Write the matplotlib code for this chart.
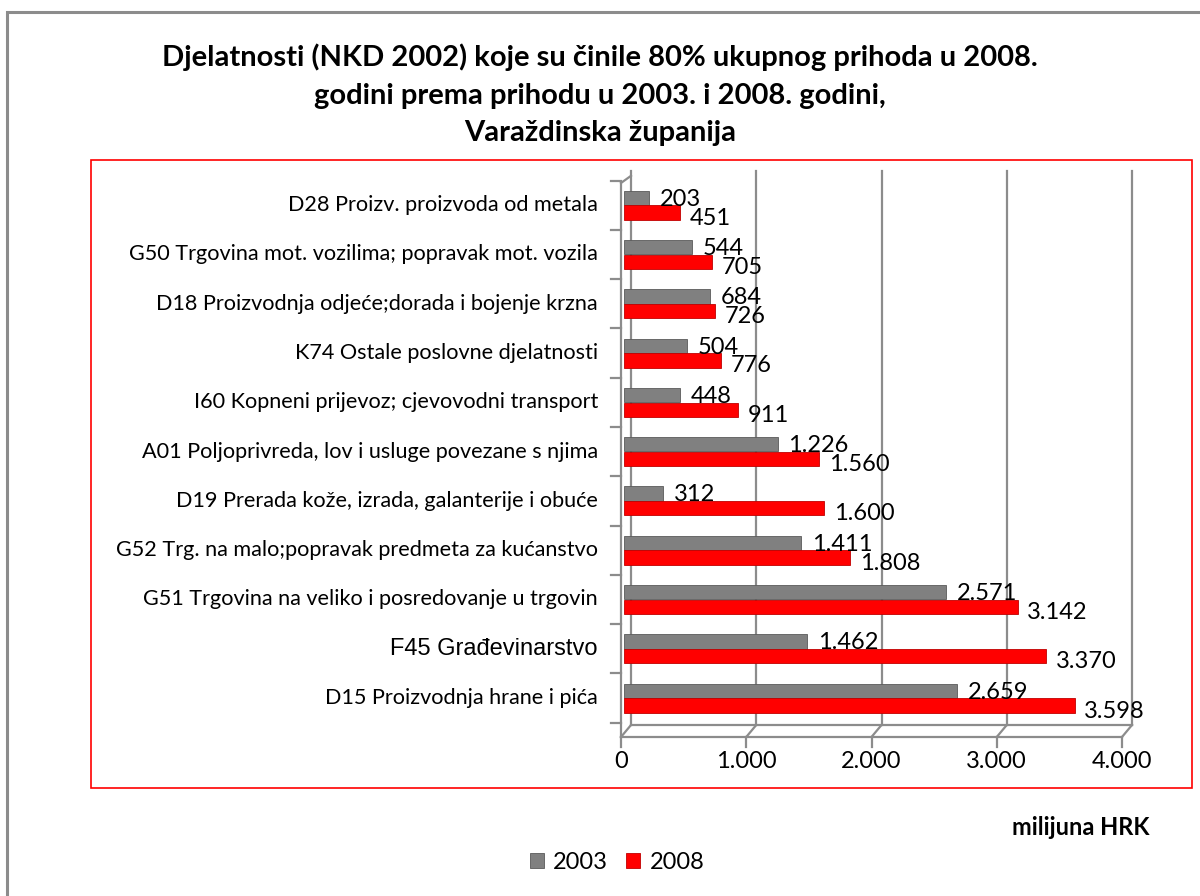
import matplotlib.pyplot as plt
import matplotlib.transforms as mtransforms
from matplotlib.patches import Rectangle

categories = [
    "D15 Proizvodnja hrane i pića",
    "F45 Građevinarstvo",
    "G51 Trgovina na veliko i posredovanje u trgovin",
    "G52 Trg. na malo;popravak predmeta za kućanstvo",
    "D19 Prerada kože, izrada, galanterije i obuće",
    "A01 Poljoprivreda, lov i usluge povezane s njima",
    "I60 Kopneni prijevoz; cjevovodni transport",
    "K74 Ostale poslovne djelatnosti",
    "D18 Proizvodnja odjeće;dorada i bojenje krzna",
    "G50 Trgovina mot. vozilima; popravak mot. vozila",
    "D28 Proizv. proizvoda od metala",
]
values_2003 = [2659, 1462, 2571, 1411, 312, 1226, 448, 504, 684, 544, 203]
values_2008 = [3598, 3370, 3142, 1808, 1600, 1560, 911, 776, 726, 705, 451]
series_names = ["2003", "2008"]
xticks = [0, 1000, 2000, 3000, 4000]

title = ("Djelatnosti (NKD 2002) koje su činile 80% ukupnog prihoda u 2008.\n"
         "godini prema prihodu u 2003. i 2008. godini,\n"
         "Varaždinska županija")

FONT = ["Lato", "DejaVu Sans"]
GREY = "#808080"
RED = "#ff0000"
AXC = "#8c8c8c"


def fmt(v):
    return f"{v:,}".replace(",", ".")


W, H = 1200, 896
fig = plt.figure(figsize=(W / 100, H / 100), dpi=100)
plt.rcParams["font.family"] = FONT

# outer frame and red plot-area frame (pixel coords)
def px_rect(x0, y0, x1, y1, color, lw):
    fig.patches.append(Rectangle((x0 / W, 1 - y1 / H), (x1 - x0) / W, (y1 - y0) / H,
                                 transform=fig.transFigure, fill=False,
                                 edgecolor=color, linewidth=lw))

px_rect(7, 12, 1210, 910, "#8c8c8c", 2.2)
px_rect(91, 160, 1192, 788, RED, 1.2)

fig.text(0.5, 1 - 95 / H, title, ha="center", va="center", fontsize=21,
         fontweight="bold", linespacing=1.55)

left, right, top, bottom = 621, 1122, 183, 737
ax = fig.add_axes([left / W, 1 - bottom / H, (right - left) / W, (bottom - top) / H])
ax.set_xlim(0, 4000)
ax.set_ylim(-0.79, 10.45)
for s in ax.spines.values():
    s.set_visible(False)
ax.set_xticks([])
ax.set_yticks([])
ax.patch.set_alpha(0)

dx, dy = 10, 12
back = mtransforms.offset_copy(ax.transData, fig=fig, x=dx, y=dy, units="dots")
mid = mtransforms.offset_copy(ax.transData, fig=fig, x=3, y=0, units="dots")
y_lo, y_hi = -0.79, 10.45

# back wall gridlines and floor
for xt in xticks:
    ax.plot([xt, xt], [y_lo, y_hi], color=AXC, lw=1.6, transform=back, clip_on=False, zorder=1)
ax.plot([0, 4000], [y_lo, y_lo], color=AXC, lw=1.6, transform=back, clip_on=False, zorder=1)
# slanted floor edges
for xt in xticks:
    p0 = ax.transData.transform((xt, y_lo))
    ax.plot([p0[0], p0[0] + dx], [p0[1], p0[1] + dy], color=AXC, lw=1.6,
            transform=None, clip_on=False, zorder=1)
# front axes
ax.plot([0, 4000], [y_lo, y_lo], color=AXC, lw=1.6, clip_on=False, zorder=1)
ax.plot([0, 0], [y_lo, y_hi], color=AXC, lw=1.6, clip_on=False, zorder=1)
p_top = ax.transData.transform((0, y_hi))
ax.plot([p_top[0], p_top[0] + dx], [p_top[1], p_top[1] + dy * 0.6], color=AXC, lw=1.6,
        transform=None, clip_on=False, zorder=1)

# tick marks
tick_tr = mtransforms.blended_transform_factory(ax.transData, ax.transAxes)
for xt in xticks:
    ax.plot([xt, xt], [0, -10 / (bottom - top)], color=AXC, lw=1.6,
            transform=tick_tr, clip_on=False)
    ax.text(xt, -24 / (bottom - top), fmt(xt), transform=tick_tr, ha="center",
            va="center", fontsize=17)
for b in [i + 0.5 for i in range(-1, 11)]:
    if b < y_lo:
        b = y_lo
    ax.plot([-80, 0], [b, b], color=AXC, lw=1.6, clip_on=False)

# bars
bh = 0.29
off = 0.15
ypos = list(range(len(categories)))
ax.barh([y + off for y in ypos], values_2003, height=bh, color=GREY,
        edgecolor="#5a5a5a", linewidth=0.6, zorder=3, label=series_names[0],
        transform=mid)
ax.barh([y - off for y in ypos], values_2008, height=bh, color=RED,
        edgecolor="#c00000", linewidth=0.6, zorder=3, label=series_names[1],
        transform=mid)

for y, v in zip(ypos, values_2003):
    ax.annotate(fmt(v), (v, y + off), xytext=(10, -1), textcoords="offset points",
                ha="left", va="center", fontsize=17, zorder=5)
for y, v in zip(ypos, values_2008):
    ax.annotate(fmt(v), (v, y - off), xytext=(9, -4), textcoords="offset points",
                ha="left", va="center", fontsize=17, zorder=5)

# category labels
for y, c in zip(ypos, categories):
    if c.startswith("F45"):
        fam, fs = ["Liberation Sans", "DejaVu Sans"], 17
    else:
        fam, fs = FONT, 15.6
    ax.text(-23 / (right - left) * 4000, y, c, ha="right", va="center",
            fontsize=fs, family=fam)

fig.text(1081 / W, 1 - 827 / H, "milijuna HRK", ha="center", va="center",
         fontsize=17, fontweight="bold")

handles, labels = ax.get_legend_handles_labels()
fig.legend(handles, labels, loc="center", bbox_to_anchor=(617 / W, 1 - 862 / H),
           ncol=2, frameon=False, fontsize=17, handlelength=0.6, handleheight=0.6,
           handletextpad=0.4, columnspacing=0.75)

fig.savefig("out.png", dpi=100)
